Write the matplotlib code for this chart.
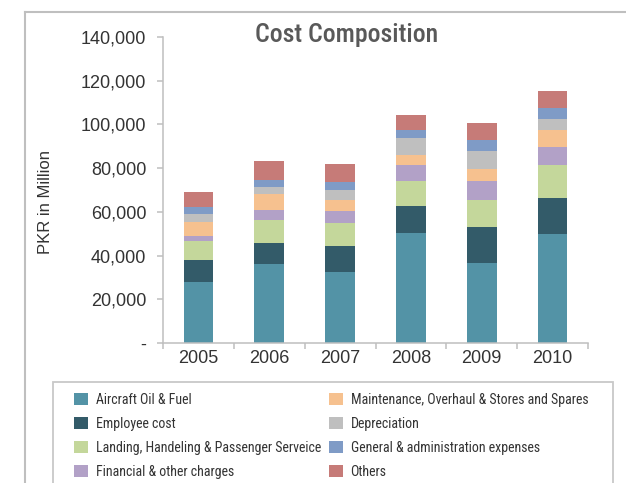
import numpy as np
import matplotlib
matplotlib.use("Agg")
import matplotlib.pyplot as plt
from matplotlib.patches import Rectangle
from matplotlib.lines import Line2D
from matplotlib.ticker import FuncFormatter, FixedLocator

years = ["2005", "2006", "2007", "2008", "2009", "2010"]

# PKR in million
fuel = [27700, 36000, 32300, 50100, 36400, 49700]
employee = [10100, 9600, 12300, 12800, 16500, 16500]
landing = [8700, 10500, 10100, 11400, 12300, 15100]
financial = [2300, 4600, 5900, 7300, 8700, 8200]
maintenance = [6400, 7300, 4600, 4600, 5900, 7900]
depreciation = [3700, 3200, 5000, 7800, 8200, 4900]
general = [3200, 3500, 3500, 3400, 5000, 5000]
others = [6900, 8400, 8400, 6700, 7800, 7800]

series_names = [
    "Aircraft Oil & Fuel",
    "Employee cost",
    "Landing, Handeling & Passenger Serveice",
    "Financial & other charges",
    "Maintenance, Overhaul & Stores and Spares",
    "Depreciation",
    "General & administration expenses",
    "Others",
]
series_values = [fuel, employee, landing, financial,
                 maintenance, depreciation, general, others]
colors = ["#5393A6", "#335B69", "#C4D79B", "#B2A1C7",
          "#F6C18F", "#BFBFBF", "#7F9BC6", "#C67B78"]

GRID = "#BFBFBF"
TEXT = "#333333"
NARROW = ["Roboto Condensed", "Archivo Narrow", "DejaVu Sans"]
REGULAR = ["Liberation Sans", "DejaVu Sans"]

W, H = 626, 483
fig = plt.figure(figsize=(W / 100, H / 100), dpi=100)
ax = fig.add_axes([163 / W, 1 - 343 / H, 425 / W, 306 / H])

x = np.arange(len(years))
bottom = np.zeros(len(years))
handles = []
for name, vals, col in zip(series_names, series_values, colors):
    b = ax.bar(x, vals, width=0.42, bottom=bottom, color=col, label=name, zorder=2)
    handles.append(b)
    bottom += np.array(vals)

ax.set_xlim(-0.5, len(years) - 0.5)
ax.set_ylim(0, 140000)
ax.set_yticks(np.arange(0, 140001, 20000))
ax.yaxis.set_major_formatter(FuncFormatter(lambda v, p: "-" if v == 0 else f"{int(v):,}"))
ax.set_xticks(x)
ax.set_xticklabels(years)
ax.xaxis.set_minor_locator(FixedLocator(np.arange(-0.5, len(years), 1.0)))
ax.tick_params(axis="x", which="major", length=0, pad=5, labelsize=13, labelcolor=TEXT)
ax.tick_params(axis="x", which="minor", length=4, width=1.1, color=GRID, direction="out")
ax.tick_params(axis="y", length=4, width=1.1, color=GRID, pad=8, labelsize=13, labelcolor=TEXT)
for lab in ax.get_xticklabels() + ax.get_yticklabels():
    lab.set_family(REGULAR)

for s in ["top", "right"]:
    ax.spines[s].set_visible(False)
for s in ["left", "bottom"]:
    ax.spines[s].set_color(GRID)
    ax.spines[s].set_linewidth(1.1)

fig.text(347 / W, 1 - 35 / H, "Cost Composition", ha="center", va="center",
         fontsize=18.5, fontweight="medium", color="#595959", family=NARROW)
fig.text(46 / W, 1 - 202 / H, "PKR in Million", ha="center", va="center",
         rotation=90, fontsize=12, color=TEXT, family=REGULAR)

# outer chart frame (cropped on right and bottom)
fig.add_artist(Line2D([25 / W, 25 / W], [0, 1 - 12 / H], color=GRID, lw=1.5))
fig.add_artist(Line2D([25 / W, 1], [1 - 12 / H, 1 - 12 / H], color=GRID, lw=1.5))

# legend frame
fig.add_artist(Rectangle((53 / W, -0.05), 560 / W, 0.05 + 1 - 382 / H,
                         fill=False, edgecolor="#C8C8C8", lw=1.3))

leg_kw = dict(frameon=False, loc="upper left", borderpad=0, borderaxespad=0,
              handlelength=1.0, handleheight=1.0, handletextpad=0.55,
              labelspacing=0.72, prop={"family": NARROW, "size": 10})
leg1 = fig.legend(handles[:4], series_names[:4],
                  bbox_to_anchor=(74 / W, 1 - 393 / H), **leg_kw)
leg2 = fig.legend(handles[4:], series_names[4:],
                  bbox_to_anchor=(329 / W, 1 - 393 / H), **leg_kw)
for leg in (leg1, leg2):
    for t in leg.get_texts():
        t.set_color(TEXT)

fig.savefig("out.png", dpi=100, facecolor="white")
